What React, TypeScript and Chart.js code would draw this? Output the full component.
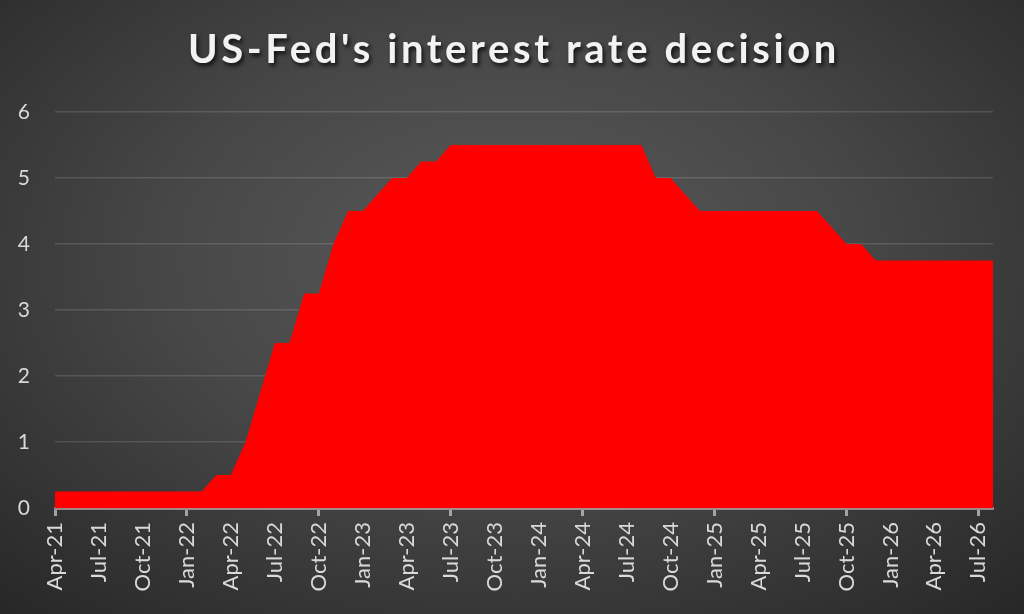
import React, { useEffect, useRef } from "react";
import { Chart, registerables } from "chart.js";

Chart.register(...registerables);

const TITLE = "US-Fed's interest rate decision";

const months: string[] = [
  "Apr-21", "May-21", "Jun-21", "Jul-21", "Aug-21", "Sep-21", "Oct-21", "Nov-21", "Dec-21",
  "Jan-22", "Feb-22", "Mar-22", "Apr-22", "May-22", "Jun-22", "Jul-22", "Aug-22", "Sep-22",
  "Oct-22", "Nov-22", "Dec-22", "Jan-23", "Feb-23", "Mar-23", "Apr-23", "May-23", "Jun-23",
  "Jul-23", "Aug-23", "Sep-23", "Oct-23", "Nov-23", "Dec-23", "Jan-24", "Feb-24", "Mar-24",
  "Apr-24", "May-24", "Jun-24", "Jul-24", "Aug-24", "Sep-24", "Oct-24", "Nov-24", "Dec-24",
  "Jan-25", "Feb-25", "Mar-25", "Apr-25", "May-25", "Jun-25", "Jul-25", "Aug-25", "Sep-25",
  "Oct-25", "Nov-25", "Dec-25", "Jan-26", "Feb-26", "Mar-26", "Apr-26", "May-26", "Jun-26",
  "Jul-26", "Aug-26",
];

const fedRate: number[] = [
  0.25, 0.25, 0.25, 0.25, 0.25, 0.25, 0.25, 0.25, 0.25,
  0.25, 0.25, 0.5, 0.5, 1.0, 1.75, 2.5, 2.5, 3.25,
  3.25, 4.0, 4.5, 4.5, 4.75, 5.0, 5.0, 5.25, 5.25,
  5.5, 5.5, 5.5, 5.5, 5.5, 5.5, 5.5, 5.5, 5.5,
  5.5, 5.5, 5.5, 5.5, 5.5, 5.0, 5.0, 4.75, 4.5,
  4.5, 4.5, 4.5, 4.5, 4.5, 4.5, 4.5, 4.5, 4.25,
  4.0, 4.0, 3.75, 3.75, 3.75, 3.75, 3.75, 3.75, 3.75,
  3.75, 3.75,
];

const yTicks: number[] = [0, 1, 2, 3, 4, 5, 6];

const FONT = "Lato, 'Open Sans', sans-serif";

const titlePlugin = {
  id: "spacedTitle",
  afterDraw(chart: any) {
    const ctx = chart.ctx;
    ctx.save();
    ctx.font = `bold 40px ${FONT}`;
    (ctx as any).letterSpacing = "3.6px";
    ctx.textAlign = "center";
    ctx.textBaseline = "middle";
    ctx.shadowColor = "rgba(0,0,0,0.75)";
    ctx.shadowBlur = 4;
    ctx.shadowOffsetX = 2;
    ctx.shadowOffsetY = 3;
    ctx.fillStyle = "#f2f2f2";
    ctx.fillText(TITLE, chart.width / 2 + 2, 50);
    ctx.restore();
  },
};

export default function App() {
  const ref = useRef<HTMLCanvasElement | null>(null);

  useEffect(() => {
    if (!ref.current) return;
    const chart = new Chart(ref.current, {
      type: "line",
      data: {
        labels: months,
        datasets: [
          {
            label: "Fed funds rate",
            data: fedRate,
            fill: "origin",
            backgroundColor: "#ff0000",
            borderWidth: 0,
            borderColor: "#ff0000",
            pointRadius: 0,
            tension: 0,
          },
        ],
      },
      options: {
        animation: false,
        responsive: false,
        devicePixelRatio: 1,
        layout: { padding: { top: 112, left: 0, right: 0, bottom: 0 } },
        plugins: {
          legend: { display: false },
          tooltip: { enabled: false },
          title: { display: false },
        },
        scales: {
          x: {
            z: 1,
            offset: false,
            border: { display: true, color: "rgba(230,200,200,0.55)", width: 3 },
            grid: {
              display: true,
              drawOnChartArea: false,
              drawTicks: true,
              tickLength: 8,
              tickWidth: 3,
              tickColor: (c: any) => (c.index % 3 === 0 ? "rgba(191,191,191,0.8)" : "rgba(0,0,0,0)"),
            },
            ticks: {
              autoSkip: false,
              maxRotation: 90,
              minRotation: 90,
              padding: 6,
              color: "#d9d9d9",
              font: { family: FONT, size: 22 },
              callback: (_v: any, i: number) => (i % 3 === 0 ? months[i] : null),
            },
            afterFit: (s: any) => {
              s.height = 106;
            },
          },
          y: {
            min: 0,
            max: 6,
            afterBuildTicks: (s: any) => {
              s.ticks = yTicks.map((v) => ({ value: v }));
            },
            border: { display: false },
            grid: {
              color: "rgba(255,255,255,0.13)",
              lineWidth: 1.5,
              drawTicks: false,
            },
            ticks: {
              color: "#d9d9d9",
              padding: 25,
              font: { family: FONT, size: 21 },
            },
            afterFit: (s: any) => {
              s.width = 55;
            },
          },
          yRight: {
            position: "right",
            display: true,
            border: { display: false },
            grid: { display: false, drawTicks: false },
            ticks: { display: false },
            afterFit: (s: any) => {
              s.width = 31;
            },
          },
        },
      },
      plugins: [titlePlugin],
    } as any);
    return () => chart.destroy();
  }, []);

  return (
    <div
      style={{
        position: "fixed",
        left: 0,
        top: 0,
        width: 1024,
        height: 614,
        background:
          "radial-gradient(ellipse 75% 80% at 50% 42%, #5a5a5a 0%, #474747 45%, #2f2f2f 85%, #262626 100%)",
      }}
    >
      <canvas ref={ref} width={1024} height={614} style={{ display: "block" }} />
    </div>
  );
}
